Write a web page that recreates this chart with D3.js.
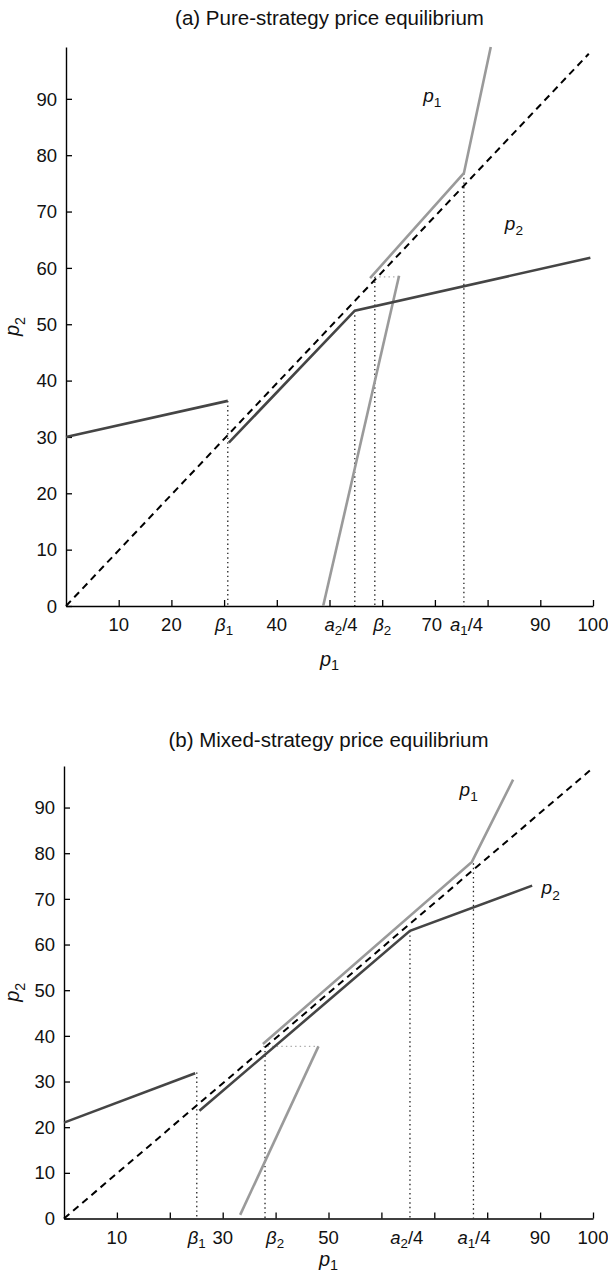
<!DOCTYPE html>
<html><head><meta charset="utf-8">
<script src="https://cdn.jsdelivr.net/npm/d3@7"></script>
<style>
body{margin:0;background:#fff}
text{font-family:"Liberation Sans",Arial,Helvetica,sans-serif;fill:#111}
</style>
</head><body>
<svg id="chart" width="608" height="1274"></svg>
<script>
// ---------- shared ticks ----------
const xTickValues = [10,20,30,40,50,60,70,80,90,100];
const yTickValues = [0,10,20,30,40,50,60,70,80,90];
const yTickLabels = ["0","10","20","30","40","50","60","70","80","90"];

// ---------- panel (a) ----------
const aTitle = "(a) Pure-strategy price equilibrium";
const aXLabelPos  = [10,20,30,40,52.2,60,69.4,76,90,100];
const aXLabelText = ["10","20","β_1","40","a_2/4","β_2","70","a_1/4","90","100"];
const aDiagonal = [[0,0],[99.2,98]];
const aP2Left  = [[0,30.0],[30.7,36.4]];
const aP2Right = [[30.9,29.0],[54.8,52.4],[99.5,61.8]];
const aP1Low   = [[48.8,0],[63.2,58.6]];
const aP1High  = [[57.7,58.2],[75.5,76.8],[80.6,99.2]];
const aGuideX   = [30.7,54.8,58.6,75.5];
const aGuideTop = [36.4,52.4,58.4,76.8];
const aGrayDots = [[57.7,58.4],[63.2,58.4]];
const aCurveLabels = [{v:[69.5,89.5],t:"p_1"},{v:[85,66.8],t:"p_2"}];

// ---------- panel (b) ----------
const bTitle = "(b) Mixed-strategy price equilibrium";
const bXLabelPos  = [10,25.1,30,39.9,50,64.8,77.5,90,100];
const bXLabelText = ["10","β_1","30","β_2","50","a_2/4","a_1/4","90","100"];
const bDiagonal = [[0,0],[99.4,98.1]];
const bP2Left  = [[0,21.0],[24.8,31.8]];
const bP2Right = [[25.6,23.6],[65.4,63.0],[88.5,72.9]];
const bP1Low   = [[33.3,0.8],[48.1,37.7]];
const bP1High  = [[37.6,38.2],[77.1,78.1],[84.9,96.1]];
const bGuideX   = [25.1,38.0,65.4,77.4];
const bGuideTop = [32.0,37.7,63.0,77.8];
const bGrayDots = [[37.6,37.7],[48.1,37.7]];
const bCurveLabels = [{v:[76.5,92.5],t:"p_1"},{v:[92,71],t:"p_2"}];

// ---------- layout ----------
const panels = [
  {title:aTitle, titleY:25, xr:[66,593], yr:[606,47], yMax:99.2, xLabY:666, yLabX:19,
   xLabelPos:aXLabelPos, xLabelText:aXLabelText, diag:aDiagonal, p2:[aP2Left,aP2Right],
   p1:[aP1Low,aP1High], gx:aGuideX, gt:aGuideTop, gd:aGrayDots, cl:aCurveLabels},
  {title:bTitle, titleY:747, xr:[64,593], yr:[1218.5,766], yMax:99.1, xLabY:1266, yLabX:19,
   xLabelPos:bXLabelPos, xLabelText:bXLabelText, diag:bDiagonal, p2:[bP2Left,bP2Right],
   p1:[bP1Low,bP1High], gx:bGuideX, gt:bGuideTop, gd:bGrayDots, cl:bCurveLabels}
];

const svg = d3.select("#chart");

function richText(sel, str, size, sub){
  if(str.indexOf("_")<0){ sel.text(str); return; }
  const s = sub || 0.28;
  const [head, tail] = str.split("_");
  sel.append("tspan").attr("font-style","italic").text(head);
  sel.append("tspan").attr("font-size", size*0.72).attr("dy", size*s).text(tail[0]);
  if(tail.length>1){
    sel.append("tspan").attr("dy", -size*s).text(tail.slice(1));
  }
}

panels.forEach(p=>{
  const x = d3.scaleLinear().domain([0,100]).range(p.xr);
  const y = d3.scaleLinear().domain([0,p.yMax]).range(p.yr);
  const g = svg.append("g");
  const line = d3.line().x(d=>x(d[0])).y(d=>y(d[1]));

  g.append("text").attr("x",(p.xr[0]+p.xr[1])/2).attr("y",p.titleY)
    .attr("text-anchor","middle").attr("font-size",20.5).text(p.title);

  const xAxis = d3.axisBottom(x).tickValues(xTickValues).tickSizeInner(-6).tickSizeOuter(0).tickFormat("");
  const xa = g.append("g").attr("transform",`translate(0,${y(0)})`).call(xAxis);
  const yAxis = d3.axisLeft(y).tickValues(yTickValues).tickSizeInner(-6).tickSizeOuter(0).tickFormat("");
  const ya = g.append("g").attr("transform",`translate(${x(0)},0)`).call(yAxis);
  [xa,ya].forEach(a=>{
    a.select(".domain").attr("stroke","#000").attr("stroke-width",1.4);
    a.selectAll(".tick line").attr("stroke","#000").attr("stroke-width",1.3);
  });

  g.selectAll(null).data(yTickValues).enter().append("text")
    .attr("x",x(0)-9).attr("y",d=>y(d)).attr("dy","0.36em")
    .attr("text-anchor","end").attr("font-size",18.5)
    .text((d,i)=>yTickLabels[i]);

  g.selectAll(null).data(p.xLabelPos).enter().append("text")
    .attr("x",d=>x(d)).attr("y",y(0)+25).attr("text-anchor","middle").attr("font-size",18.5)
    .each(function(d,i){ richText(d3.select(this), p.xLabelText[i], 18.5, 0.24); });

  const xl = g.append("text").attr("x",(p.xr[0]+p.xr[1])/2).attr("y",p.xLabY)
    .attr("text-anchor","middle").attr("font-size",20);
  richText(xl,"p_1",20,0.22);
  const yl = g.append("text").attr("transform",`translate(${p.yLabX},${(p.yr[0]+p.yr[1])/2}) rotate(-90)`)
    .attr("text-anchor","middle").attr("font-size",20);
  richText(yl,"p_2",20);

  g.selectAll(null).data(p.gx).enter().append("line")
    .attr("x1",d=>x(d)).attr("x2",d=>x(d))
    .attr("y1",(d,i)=>y(p.gt[i])).attr("y2",y(0))
    .attr("stroke","#222").attr("stroke-width",1.3).attr("stroke-dasharray","1.4,3.2");
  g.append("path").attr("d",line(p.gd)).attr("fill","none")
    .attr("stroke","#aaa").attr("stroke-width",1.4).attr("stroke-dasharray","1.4,3.2");

  g.append("path").attr("d",line(p.diag)).attr("fill","none")
    .attr("stroke","#000").attr("stroke-width",2).attr("stroke-dasharray","7,5");

  p.p1.forEach(s=>g.append("path").attr("d",line(s)).attr("fill","none")
    .attr("stroke","#9a9a9a").attr("stroke-width",2.6));
  p.p2.forEach(s=>g.append("path").attr("d",line(s)).attr("fill","none")
    .attr("stroke","#454545").attr("stroke-width",2.6));

  p.cl.forEach(c=>{
    const t = g.append("text").attr("x",x(c.v[0])).attr("y",y(c.v[1]))
      .attr("text-anchor","middle").attr("font-size",19);
    richText(t,c.t,19);
  });
});
</script>
</body></html>
